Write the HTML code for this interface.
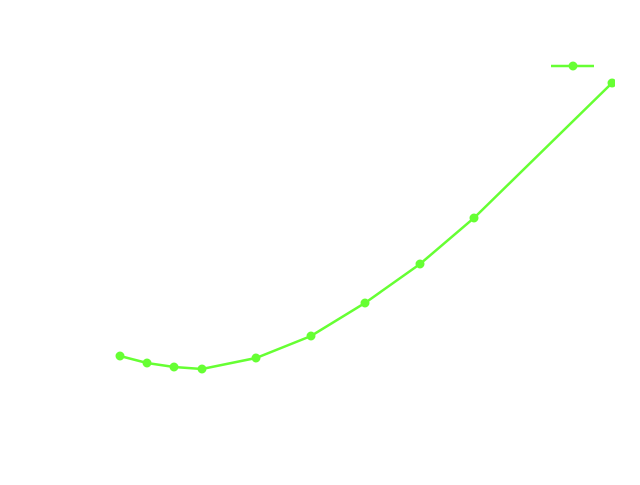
<!DOCTYPE html>
<html><head><style>html,body{margin:0;padding:0;background:#fff;}</style></head>
<body>
<svg width="640" height="480" xmlns="http://www.w3.org/2000/svg">
<defs><clipPath id="c"><rect x="0" y="0" width="615" height="480"/></clipPath></defs>
<g clip-path="url(#c)" stroke="#66ff33" fill="#66ff33">
<polyline fill="none" stroke-width="2.5" points="120,356 147,363 174,367 202,369 256,358 311,336 365,303 420,264 474,218 612,83"/>
<circle cx="120" cy="356" r="4"/><circle cx="147" cy="363" r="4"/><circle cx="174" cy="367" r="4"/><circle cx="202" cy="369" r="4"/><circle cx="256" cy="358" r="4"/><circle cx="311" cy="336" r="4"/><circle cx="365" cy="303" r="4"/><circle cx="420" cy="264" r="4"/><circle cx="474" cy="218" r="4"/><circle cx="612" cy="83" r="4"/>
</g>
<g stroke="#66ff33" fill="#66ff33">
<line x1="551" y1="66" x2="594" y2="66" stroke-width="2.5"/>
<circle cx="573" cy="66" r="4"/>
</g>
</svg>
</body></html>
